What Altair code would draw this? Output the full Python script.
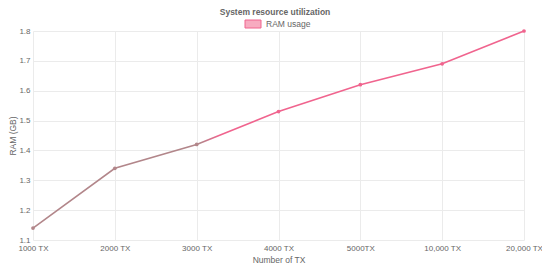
import altair as alt
import pandas as pd

tx_labels = ["1000 TX", "2000 TX", "3000 TX", "4000 TX", "5000TX", "10,000 TX", "20,000 TX"]
ram_gb = [1.14, 1.34, 1.42, 1.53, 1.62, 1.69, 1.80]
y_ticks = [1.1, 1.2, 1.3, 1.4, 1.5, 1.6, 1.7, 1.8]
series_name = "RAM usage"
chart_title = "System resource utilization"

PINK = "#f0648e"
BROWN = "#b2868a"
TXT = "#666666"
FONT = "Liberation Sans"

df = pd.DataFrame({"tx": tx_labels, "ram": ram_gb})

PAD_L = 25
W, H = 491, 209

x_enc = alt.X(
    "tx:N", sort=tx_labels, title="Number of TX",
    scale=alt.Scale(type="point", padding=0),
    axis=alt.Axis(labelAngle=0, labelFontSize=8, labelColor=TXT, labelFont=FONT,
                  titleFontSize=8.5, titleColor=TXT, titleFont=FONT, titleFontWeight="normal",
                  titlePadding=3, labelPadding=4, ticks=False, domain=False,
                  grid=True, gridColor="#ebebeb", gridWidth=1, labelOverlap=False),
)
y_enc = alt.Y(
    "ram:Q", title="RAM (GB)",
    scale=alt.Scale(domain=[1.1, 1.8], nice=False, zero=False),
    axis=alt.Axis(values=y_ticks, format=".1f", labelFontSize=8, labelColor=TXT, labelFont=FONT,
                  titleFontSize=8.5, titleColor=TXT, titleFont=FONT, titleFontWeight="normal",
                  titleX=-PAD_L, titleBaseline="top", titleAngle=-90,
                  labelPadding=3, ticks=False, domain=False, labelOverlap=False,
                  grid=True, gridColor="#ebebeb", gridWidth=1),
)

base = alt.Chart(df)

line = base.mark_line(
    strokeWidth=1.6,
    color=alt.Gradient(
        gradient="linear", x1=0, x2=1, y1=0, y2=0,
        stops=[alt.GradientStop(offset=0, color=BROWN),
               alt.GradientStop(offset=0.34, color=BROWN),
               alt.GradientStop(offset=0.38, color=PINK),
               alt.GradientStop(offset=1, color=PINK)],
    ),
).encode(x=x_enc, y=y_enc)

points = base.mark_circle(size=14, opacity=1).encode(
    x=x_enc,
    y=y_enc,
    color=alt.condition(
        "indexof(['1000 TX','2000 TX','3000 TX'], datum.tx) >= 0",
        alt.value(BROWN), alt.value(PINK)),
)

legend_df = pd.DataFrame({"name": [series_name]})
legend_box = alt.Chart(legend_df).mark_rect(
    fill="#f7abc0", stroke=PINK, strokeWidth=1
).encode(x=alt.value(212), x2=alt.value(228), y=alt.value(-11), y2=alt.value(-3))
legend_text = alt.Chart(legend_df).mark_text(
    align="left", baseline="middle", fontSize=8.5, color=TXT, font=FONT
).encode(x=alt.value(233), y=alt.value(-7), text="name:N")

title_df = pd.DataFrame({"t": [chart_title]})
title_mark = alt.Chart(title_df).mark_text(
    align="center", baseline="middle", fontSize=8.5, fontWeight="bold", color=TXT, font=FONT
).encode(x=alt.value(242), y=alt.value(-19), text="t:N")

chart = alt.layer(line, points, legend_box, legend_text, title_mark).properties(
    width=W, height=H,
    autosize=alt.AutoSizeParams(type="none"),
    padding={"left": PAD_L, "top": 23, "right": 18, "bottom": 25},
).configure_view(stroke=None)

chart.save("out.html", embed_options={"renderer": "svg", "actions": False})
